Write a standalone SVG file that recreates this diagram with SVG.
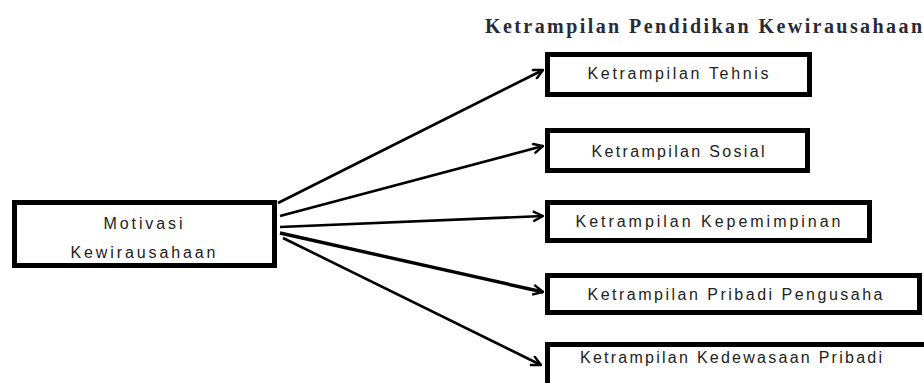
<svg xmlns="http://www.w3.org/2000/svg" width="924" height="383" viewBox="0 0 924 383">
  <style>
    .box { fill: #ffffff; stroke: #000000; stroke-width: 5; }
    .lbl { font-family: "Liberation Sans", "DejaVu Sans", sans-serif; font-size: 16px; fill: #222222; text-anchor: middle; }
    .title { font-family: "Liberation Serif", "DejaVu Serif", serif; font-size: 20px; font-weight: bold; fill: #2a2a38; }
    .edge { stroke: #000000; stroke-width: 2.6; fill: none; marker-end: url(#arrow); }
  </style>
  <defs>
    <marker id="arrow" viewBox="0 0 12 12" refX="11" refY="6" markerWidth="12" markerHeight="12" markerUnits="userSpaceOnUse" orient="auto">
      <path d="M1,1 L11,6 L1,11" fill="none" stroke="#000000" stroke-width="2.4"/>
    </marker>
  </defs>
  <rect width="924" height="383" fill="#ffffff"/>

  <text class="title" x="485" y="33" textLength="437" lengthAdjust="spacing">Ketrampilan Pendidikan Kewirausahaan</text>

  <g id="connectors">
    <line class="edge" x1="278" y1="203" x2="543" y2="70"/>
    <line class="edge" x1="280" y1="216" x2="543" y2="146"/>
    <line class="edge" x1="280" y1="227" x2="543" y2="216"/>
    <line class="edge" x1="280" y1="233" x2="543" y2="292" style="stroke-width:3.4"/>
    <line class="edge" x1="283" y1="238" x2="541" y2="365"/>
  </g>

  <g id="motivasi">
    <rect class="box" x="14.5" y="202.5" width="260" height="63"/>
    <text class="lbl" x="143" y="229" textLength="79" lengthAdjust="spacing">Motivasi</text>
    <text class="lbl" x="143" y="258" textLength="145" lengthAdjust="spacing">Kewirausahaan</text>
  </g>

  <g id="teknis">
    <rect class="box" x="547.5" y="54.5" width="262" height="40"/>
    <text class="lbl" x="678" y="79" textLength="181" lengthAdjust="spacing">Ketrampilan Tehnis</text>
  </g>

  <g id="sosial">
    <rect class="box" x="547.5" y="130.5" width="260" height="40"/>
    <text class="lbl" x="678" y="157" textLength="173" lengthAdjust="spacing">Ketrampilan Sosial</text>
  </g>

  <g id="kepemimpinan">
    <rect class="box" x="547.5" y="202.5" width="322" height="38"/>
    <text class="lbl" x="708" y="227" textLength="265" lengthAdjust="spacing">Ketrampilan Kepemimpinan</text>
  </g>

  <g id="pribadi-pengusaha">
    <rect class="box" x="547.5" y="275.5" width="372" height="37"/>
    <text class="lbl" x="735" y="300" textLength="295" lengthAdjust="spacing">Ketrampilan Pribadi Pengusaha</text>
  </g>

  <g id="kedewasaan-pribadi">
    <rect class="box" x="547.5" y="344.5" width="380" height="50"/>
    <text class="lbl" x="731" y="363" textLength="302" lengthAdjust="spacing">Ketrampilan Kedewasaan Pribadi</text>
  </g>
</svg>
